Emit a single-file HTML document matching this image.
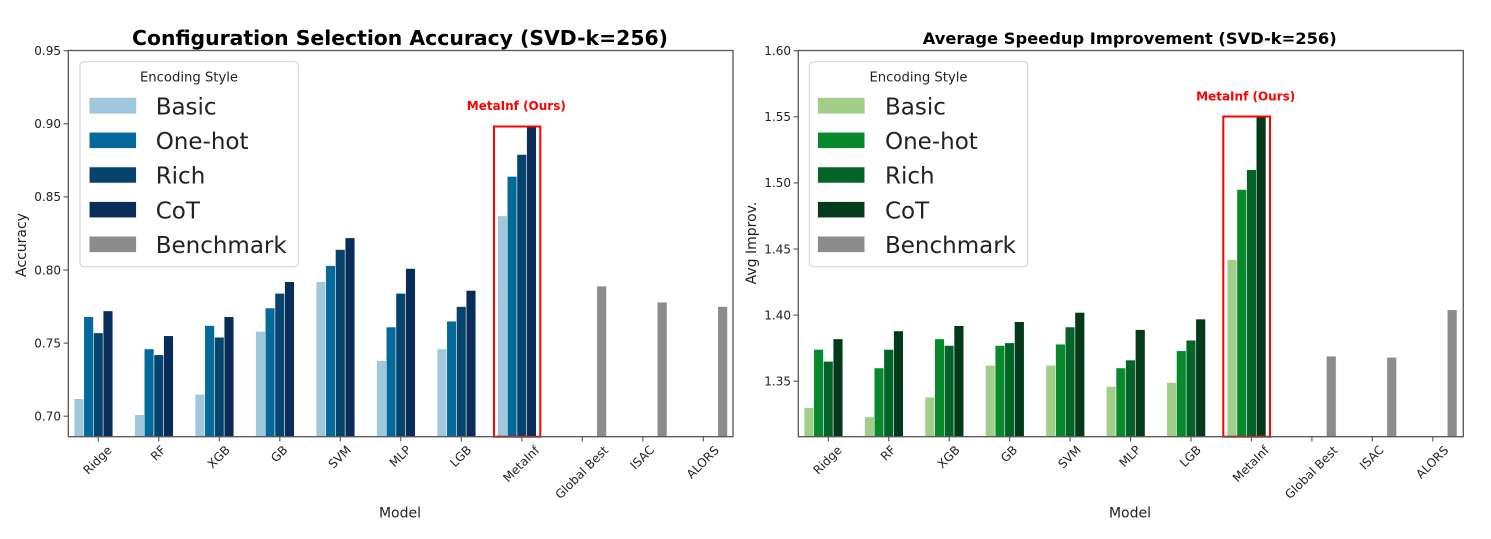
<!DOCTYPE html>
<html>
<head>
<meta charset="utf-8">
<style>
  html,body{margin:0;padding:0;background:#fff;}
  svg{display:block;}
  text{font-family:"DejaVu Sans","Liberation Sans",sans-serif;fill:#222;}
</style>
</head>
<body>
<svg width="1491" height="539" viewBox="0 0 1491 539" xmlns="http://www.w3.org/2000/svg">
<rect x="0" y="0" width="1491" height="539" fill="#fff"/>

<!-- ================= LEFT CHART ================= -->
<text x="400" y="45" text-anchor="middle" font-size="20.4" font-weight="bold" fill="#000" style="fill:#000" textLength="536" lengthAdjust="spacingAndGlyphs">Configuration Selection Accuracy (SVD-k=256)</text>

<!-- bars -->
<g transform="translate(0,436.7) scale(1,-1)" stroke="#fff" stroke-width="0.5">
  <!-- Ridge -->
  <rect x="74.1" y="0" width="9.68" height="38.04" fill="#9fc8dc"/>
  <rect x="83.78" y="0" width="9.68" height="119.92" fill="#046a9c"/>
  <rect x="93.46" y="0" width="9.68" height="103.83" fill="#06446d"/>
  <rect x="103.14" y="0" width="9.68" height="125.76" fill="#092d58"/>
  <!-- RF -->
  <rect x="134.6" y="0" width="9.68" height="21.96" fill="#9fc8dc"/>
  <rect x="144.28" y="0" width="9.68" height="87.75" fill="#046a9c"/>
  <rect x="153.96" y="0" width="9.68" height="81.9" fill="#06446d"/>
  <rect x="163.64" y="0" width="9.68" height="100.91" fill="#092d58"/>
  <!-- XGB -->
  <rect x="195.1" y="0" width="9.68" height="42.43" fill="#9fc8dc"/>
  <rect x="204.78" y="0" width="9.68" height="111.14" fill="#046a9c"/>
  <rect x="214.46" y="0" width="9.68" height="99.45" fill="#06446d"/>
  <rect x="224.14" y="0" width="9.68" height="119.92" fill="#092d58"/>
  <!-- GB -->
  <rect x="255.6" y="0" width="9.68" height="105.3" fill="#9fc8dc"/>
  <rect x="265.28" y="0" width="9.68" height="128.69" fill="#046a9c"/>
  <rect x="274.96" y="0" width="9.68" height="143.31" fill="#06446d"/>
  <rect x="284.64" y="0" width="9.68" height="155" fill="#092d58"/>
  <!-- SVM -->
  <rect x="316.1" y="0" width="9.68" height="155" fill="#9fc8dc"/>
  <rect x="325.78" y="0" width="9.68" height="171.09" fill="#046a9c"/>
  <rect x="335.46" y="0" width="9.68" height="187.17" fill="#06446d"/>
  <rect x="345.14" y="0" width="9.68" height="198.86" fill="#092d58"/>
  <!-- MLP -->
  <rect x="376.6" y="0" width="9.68" height="76.06" fill="#9fc8dc"/>
  <rect x="386.28" y="0" width="9.68" height="109.68" fill="#046a9c"/>
  <rect x="395.96" y="0" width="9.68" height="143.31" fill="#06446d"/>
  <rect x="405.64" y="0" width="9.68" height="168.16" fill="#092d58"/>
  <!-- LGB -->
  <rect x="437.1" y="0" width="9.68" height="87.75" fill="#9fc8dc"/>
  <rect x="446.78" y="0" width="9.68" height="115.53" fill="#046a9c"/>
  <rect x="456.46" y="0" width="9.68" height="130.15" fill="#06446d"/>
  <rect x="466.14" y="0" width="9.68" height="146.23" fill="#092d58"/>
  <!-- MetaInf -->
  <rect x="497.6" y="0" width="9.68" height="220.79" fill="#9fc8dc"/>
  <rect x="507.28" y="0" width="9.68" height="260.27" fill="#046a9c"/>
  <rect x="516.96" y="0" width="9.68" height="282.2" fill="#06446d"/>
  <rect x="526.64" y="0" width="9.68" height="309.98" fill="#092d58"/>
  <!-- Benchmarks -->
  <rect x="596.82" y="0" width="9.68" height="150.62" fill="#8c8c8c"/>
  <rect x="657.32" y="0" width="9.68" height="134.54" fill="#8c8c8c"/>
  <rect x="717.82" y="0" width="9.68" height="130.15" fill="#8c8c8c"/>
</g>

<!-- red highlight -->
<rect x="494" y="126.5" width="46.3" height="310.2" fill="none" stroke="#ff0000" stroke-width="2"/>
<text x="516.3" y="110" text-anchor="middle" font-size="12" font-weight="bold" style="fill:#ff0000">MetaInf (Ours)</text>

<!-- spines -->
<rect x="68.3" y="50.5" width="664.7" height="386.2" fill="none" stroke="#555" stroke-width="1.3"/>

<!-- y ticks -->
<g stroke="#555" stroke-width="1.1">
  <line x1="63.5" y1="50.7" x2="68.3" y2="50.7"/>
  <line x1="63.5" y1="123.8" x2="68.3" y2="123.8"/>
  <line x1="63.5" y1="196.9" x2="68.3" y2="196.9"/>
  <line x1="63.5" y1="270" x2="68.3" y2="270"/>
  <line x1="63.5" y1="343.1" x2="68.3" y2="343.1"/>
  <line x1="63.5" y1="416.2" x2="68.3" y2="416.2"/>
</g>
<g font-size="12" text-anchor="end">
  <text x="61" y="55">0.95</text>
  <text x="61" y="128.1">0.90</text>
  <text x="61" y="201.2">0.85</text>
  <text x="61" y="274.3">0.80</text>
  <text x="61" y="347.4">0.75</text>
  <text x="61" y="420.5">0.70</text>
</g>

<!-- x ticks -->
<g stroke="#555" stroke-width="1.1">
  <line x1="98.3" y1="436.7" x2="98.3" y2="441.5"/>
  <line x1="158.8" y1="436.7" x2="158.8" y2="441.5"/>
  <line x1="219.3" y1="436.7" x2="219.3" y2="441.5"/>
  <line x1="279.8" y1="436.7" x2="279.8" y2="441.5"/>
  <line x1="340.3" y1="436.7" x2="340.3" y2="441.5"/>
  <line x1="400.8" y1="436.7" x2="400.8" y2="441.5"/>
  <line x1="461.3" y1="436.7" x2="461.3" y2="441.5"/>
  <line x1="521.8" y1="436.7" x2="521.8" y2="441.5"/>
  <line x1="582.3" y1="436.7" x2="582.3" y2="441.5"/>
  <line x1="642.8" y1="436.7" x2="642.8" y2="441.5"/>
  <line x1="703.3" y1="436.7" x2="703.3" y2="441.5"/>
</g>
<g font-size="12" text-anchor="middle" dominant-baseline="central">
  <text x="97.5" y="460.2" transform="rotate(-45 97.5 460.2)">Ridge</text>
  <text x="158.3" y="453.2" transform="rotate(-45 158.3 453.2)">RF</text>
  <text x="218.8" y="457" transform="rotate(-45 218.8 457)">XGB</text>
  <text x="279.3" y="454" transform="rotate(-45 279.3 454)">GB</text>
  <text x="339.8" y="457.1" transform="rotate(-45 339.8 457.1)">SVM</text>
  <text x="400.3" y="456.4" transform="rotate(-45 400.3 456.4)">MLP</text>
  <text x="460.8" y="456.4" transform="rotate(-45 460.8 456.4)">LGB</text>
  <text x="521.3" y="464.1" transform="rotate(-45 521.3 464.1)">MetaInf</text>
  <text x="581.8" y="472.5" transform="rotate(-45 581.8 472.5)">Global Best</text>
  <text x="642.3" y="457.6" transform="rotate(-45 642.3 457.6)">ISAC</text>
  <text x="702.8" y="462.3" transform="rotate(-45 702.8 462.3)">ALORS</text>
</g>

<text x="400" y="517.5" text-anchor="middle" font-size="14">Model</text>
<text x="26" y="245" text-anchor="middle" font-size="14" transform="rotate(-90 26 245)">Accuracy</text>

<!-- legend left -->
<rect x="80" y="61.7" width="218.3" height="205" rx="4" ry="4" fill="#fff" fill-opacity="0.85" stroke="#d0d0d0" stroke-width="1"/>
<text x="189" y="81.5" text-anchor="middle" font-size="13.2">Encoding Style</text>
<g stroke="#e8e8e8" stroke-width="0.6">
  <rect x="89.3" y="97.7" width="47" height="16" fill="#9fc8dc"/>
  <rect x="89.3" y="132.35" width="47" height="16" fill="#046a9c"/>
  <rect x="89.3" y="167" width="47" height="16" fill="#06446d"/>
  <rect x="89.3" y="201.65" width="47" height="16" fill="#092d58"/>
  <rect x="89.3" y="236.3" width="47" height="16" fill="#8c8c8c"/>
</g>
<g font-size="23">
  <text x="155.7" y="114.3">Basic</text>
  <text x="155.7" y="148.95">One-hot</text>
  <text x="155.7" y="183.6">Rich</text>
  <text x="155.7" y="218.25">CoT</text>
  <text x="155.7" y="252.9">Benchmark</text>
</g>

<!-- ================= RIGHT CHART ================= -->
<text x="1129.7" y="44" text-anchor="middle" font-size="16.3" font-weight="bold" style="fill:#000" textLength="414" lengthAdjust="spacingAndGlyphs">Average Speedup Improvement (SVD-k=256)</text>

<g transform="translate(0,436.7) scale(1,-1)" stroke="#fff" stroke-width="0.5">
  <!-- Ridge -->
  <rect x="804.1" y="0" width="9.68" height="29.06" fill="#a1cf8a"/>
  <rect x="813.78" y="0" width="9.68" height="87.23" fill="#088a2c"/>
  <rect x="823.46" y="0" width="9.68" height="75.33" fill="#046428"/>
  <rect x="833.14" y="0" width="9.68" height="97.8" fill="#023a1a"/>
  <!-- RF -->
  <rect x="864.55" y="0" width="9.68" height="19.8" fill="#a1cf8a"/>
  <rect x="874.23" y="0" width="9.68" height="68.72" fill="#088a2c"/>
  <rect x="883.91" y="0" width="9.68" height="87.23" fill="#046428"/>
  <rect x="893.59" y="0" width="9.68" height="105.73" fill="#023a1a"/>
  <!-- XGB -->
  <rect x="925.0" y="0" width="9.68" height="39.63" fill="#a1cf8a"/>
  <rect x="934.68" y="0" width="9.68" height="97.8" fill="#088a2c"/>
  <rect x="944.36" y="0" width="9.68" height="91.19" fill="#046428"/>
  <rect x="954.04" y="0" width="9.68" height="111.02" fill="#023a1a"/>
  <!-- GB -->
  <rect x="985.45" y="0" width="9.68" height="71.36" fill="#a1cf8a"/>
  <rect x="995.13" y="0" width="9.68" height="91.19" fill="#088a2c"/>
  <rect x="1004.81" y="0" width="9.68" height="93.84" fill="#046428"/>
  <rect x="1014.49" y="0" width="9.68" height="114.99" fill="#023a1a"/>
  <!-- SVM -->
  <rect x="1045.9" y="0" width="9.68" height="71.36" fill="#a1cf8a"/>
  <rect x="1055.58" y="0" width="9.68" height="92.51" fill="#088a2c"/>
  <rect x="1065.26" y="0" width="9.68" height="109.7" fill="#046428"/>
  <rect x="1074.94" y="0" width="9.68" height="124.24" fill="#023a1a"/>
  <!-- MLP -->
  <rect x="1106.35" y="0" width="9.68" height="50.21" fill="#a1cf8a"/>
  <rect x="1116.03" y="0" width="9.68" height="68.72" fill="#088a2c"/>
  <rect x="1125.71" y="0" width="9.68" height="76.65" fill="#046428"/>
  <rect x="1135.39" y="0" width="9.68" height="107.06" fill="#023a1a"/>
  <!-- LGB -->
  <rect x="1166.8" y="0" width="9.68" height="54.18" fill="#a1cf8a"/>
  <rect x="1176.48" y="0" width="9.68" height="85.9" fill="#088a2c"/>
  <rect x="1186.16" y="0" width="9.68" height="96.48" fill="#046428"/>
  <rect x="1195.84" y="0" width="9.68" height="117.63" fill="#023a1a"/>
  <!-- MetaInf -->
  <rect x="1227.25" y="0" width="9.68" height="177.12" fill="#a1cf8a"/>
  <rect x="1236.93" y="0" width="9.68" height="247.19" fill="#088a2c"/>
  <rect x="1246.61" y="0" width="9.68" height="267.02" fill="#046428"/>
  <rect x="1256.29" y="0" width="9.68" height="319.9" fill="#023a1a"/>
  <!-- Benchmarks -->
  <rect x="1326.42" y="0" width="9.68" height="80.62" fill="#8c8c8c"/>
  <rect x="1386.87" y="0" width="9.68" height="79.3" fill="#8c8c8c"/>
  <rect x="1447.32" y="0" width="9.68" height="126.89" fill="#8c8c8c"/>
</g>

<rect x="1223.3" y="116.5" width="46.7" height="320.2" fill="none" stroke="#ff0000" stroke-width="2"/>
<text x="1245.7" y="100.5" text-anchor="middle" font-size="12" font-weight="bold" style="fill:#ff0000">MetaInf (Ours)</text>

<rect x="798.3" y="50.5" width="665" height="386.2" fill="none" stroke="#555" stroke-width="1.3"/>

<g stroke="#555" stroke-width="1.1">
  <line x1="793.5" y1="50.7" x2="798.3" y2="50.7"/>
  <line x1="793.5" y1="116.8" x2="798.3" y2="116.8"/>
  <line x1="793.5" y1="182.9" x2="798.3" y2="182.9"/>
  <line x1="793.5" y1="249" x2="798.3" y2="249"/>
  <line x1="793.5" y1="315.1" x2="798.3" y2="315.1"/>
  <line x1="793.5" y1="381.2" x2="798.3" y2="381.2"/>
</g>
<g font-size="12" text-anchor="end">
  <text x="791" y="55">1.60</text>
  <text x="791" y="121.1">1.55</text>
  <text x="791" y="187.2">1.50</text>
  <text x="791" y="253.3">1.45</text>
  <text x="791" y="319.4">1.40</text>
  <text x="791" y="385.5">1.35</text>
</g>

<g stroke="#555" stroke-width="1.1">
  <line x1="828.3" y1="436.7" x2="828.3" y2="441.5"/>
  <line x1="888.75" y1="436.7" x2="888.75" y2="441.5"/>
  <line x1="949.2" y1="436.7" x2="949.2" y2="441.5"/>
  <line x1="1009.65" y1="436.7" x2="1009.65" y2="441.5"/>
  <line x1="1070.1" y1="436.7" x2="1070.1" y2="441.5"/>
  <line x1="1130.55" y1="436.7" x2="1130.55" y2="441.5"/>
  <line x1="1191" y1="436.7" x2="1191" y2="441.5"/>
  <line x1="1251.45" y1="436.7" x2="1251.45" y2="441.5"/>
  <line x1="1311.9" y1="436.7" x2="1311.9" y2="441.5"/>
  <line x1="1372.35" y1="436.7" x2="1372.35" y2="441.5"/>
  <line x1="1432.8" y1="436.7" x2="1432.8" y2="441.5"/>
</g>
<g font-size="12" text-anchor="middle" dominant-baseline="central">
  <text x="827.5" y="460.2" transform="rotate(-45 827.5 460.2)">Ridge</text>
  <text x="888.2" y="453.2" transform="rotate(-45 888.2 453.2)">RF</text>
  <text x="948.7" y="457" transform="rotate(-45 948.7 457)">XGB</text>
  <text x="1009.1" y="454" transform="rotate(-45 1009.1 454)">GB</text>
  <text x="1069.6" y="457.1" transform="rotate(-45 1069.6 457.1)">SVM</text>
  <text x="1130" y="456.4" transform="rotate(-45 1130 456.4)">MLP</text>
  <text x="1190.5" y="456.4" transform="rotate(-45 1190.5 456.4)">LGB</text>
  <text x="1250.9" y="464.1" transform="rotate(-45 1250.9 464.1)">MetaInf</text>
  <text x="1311.4" y="472.5" transform="rotate(-45 1311.4 472.5)">Global Best</text>
  <text x="1371.8" y="457.6" transform="rotate(-45 1371.8 457.6)">ISAC</text>
  <text x="1432.3" y="462.3" transform="rotate(-45 1432.3 462.3)">ALORS</text>
</g>

<text x="1130" y="517.5" text-anchor="middle" font-size="14">Model</text>
<text x="756" y="243" text-anchor="middle" font-size="14" transform="rotate(-90 756 243)">Avg Improv.</text>

<!-- legend right -->
<rect x="809.3" y="61.7" width="218.4" height="205" rx="4" ry="4" fill="#fff" fill-opacity="0.85" stroke="#d0d0d0" stroke-width="1"/>
<text x="918.5" y="81.5" text-anchor="middle" font-size="13.2">Encoding Style</text>
<g stroke="#e8e8e8" stroke-width="0.6">
  <rect x="817.7" y="97.7" width="47" height="16" fill="#a1cf8a"/>
  <rect x="817.7" y="132.35" width="47" height="16" fill="#088a2c"/>
  <rect x="817.7" y="167" width="47" height="16" fill="#046428"/>
  <rect x="817.7" y="201.65" width="47" height="16" fill="#023a1a"/>
  <rect x="817.7" y="236.3" width="47" height="16" fill="#8c8c8c"/>
</g>
<g font-size="23">
  <text x="885" y="114.3">Basic</text>
  <text x="885" y="148.95">One-hot</text>
  <text x="885" y="183.6">Rich</text>
  <text x="885" y="218.25">CoT</text>
  <text x="885" y="252.9">Benchmark</text>
</g>

</svg>
</body>
</html>
